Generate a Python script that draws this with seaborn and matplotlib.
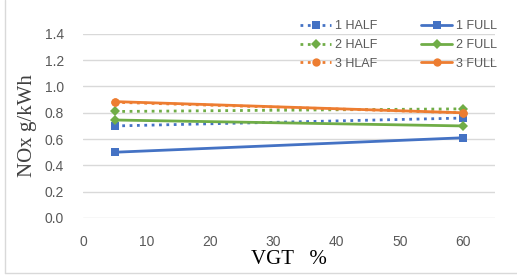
import matplotlib
matplotlib.use("Agg")
import matplotlib.pyplot as plt
import seaborn as sns
import pandas as pd

# data
vgt = [5, 60]
half_1 = [0.70, 0.76]
full_1 = [0.50, 0.61]
half_2 = [0.81, 0.83]
full_2 = [0.745, 0.70]
half_3 = [0.88, 0.80]
full_3 = [0.885, 0.80]

labels = ["1 HALF", "2 HALF", "3 HLAF", "1 FULL", "2 FULL", "3 FULL"]
series = [half_1, half_2, half_3, full_1, full_2, full_3]
colors = ["#4472C4", "#70AD47", "#ED7D31"] * 2
markers = ["s", "D", "o"] * 2
styles = [":", ":", ":", "-", "-", "-"]

sns.set_style("white")
plt.rcParams['font.family'] = ['Liberation Sans', 'DejaVu Sans']

fig = plt.figure(figsize=(5.17, 2.78), dpi=100)
ax = fig.add_axes([0.161, 0.216, 0.796, 0.662])

handles = []
for lab, vals, c, m, ls in zip(labels, series, colors, markers, styles):
    df = pd.DataFrame({"VGT": vgt, "NOx": vals})
    sns.lineplot(data=df, x="VGT", y="NOx", ax=ax, color=c, marker=m,
                 linestyle=ls, linewidth=2.0, markersize=6 if m != "D" else 5.5,
                 markeredgewidth=0, label=lab, legend=False)
    handles.append(ax.lines[-1])

ax.set_xlim(0, 65)
ax.set_ylim(0, 1.4)
ax.set_xticks(range(0, 61, 10))
ax.set_yticks([0.0, 0.2, 0.4, 0.6, 0.8, 1.0, 1.2, 1.4])
ax.set_yticklabels([f"{v:.1f}" for v in ax.get_yticks()])
ax.grid(axis="y", color="#D9D9D9", linewidth=1)
ax.set_axisbelow(True)
for s in ax.spines.values():
    s.set_visible(False)
ax.tick_params(axis="both", length=0, labelsize=10, colors="#595959")
ax.tick_params(axis="x", pad=12)
ax.tick_params(axis="y", pad=14)

ax.set_xlabel("VGT   %", family="Liberation Serif", fontsize=15, color="#000000", labelpad=1)
ax.set_ylabel("NOx g/kWh", family="Liberation Serif", fontsize=15, color="#404040", labelpad=5)

leg = fig.legend(handles=handles, labels=labels, ncol=2, loc="upper right",
                 bbox_to_anchor=(497 / 517, 1 - 20 / 278), frameon=False, fontsize=9,
                 handlelength=2.5, columnspacing=3.5, labelspacing=0.55,
                 handletextpad=0.3, borderpad=0, borderaxespad=0)
for t in leg.get_texts():
    t.set_color("#595959")

# light frame like the exported chart area
fig.add_artist(plt.Line2D([0.01, 0.01], [0.018, 1.0], transform=fig.transFigure,
                          color="#D9D9D9", linewidth=1))
fig.add_artist(plt.Line2D([0.01, 1.0], [0.018, 0.018], transform=fig.transFigure,
                          color="#D9D9D9", linewidth=1))

fig.savefig("out.png", dpi=100)
